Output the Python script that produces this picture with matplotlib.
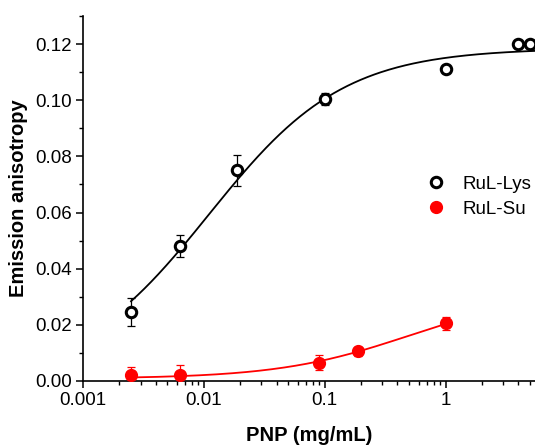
"""
Emission anisotropy of RuL-Lys and RuL-Su versus PNP concentration.
"""
import matplotlib.pyplot as plt
import numpy as np
from matplotlib.ticker import LogLocator, FixedLocator, MultipleLocator, NullFormatter

plt.rcParams['font.family'] = ['Liberation Sans', 'DejaVu Sans']

# Measured points (mean +/- error)
lys_x = [0.0025, 0.0063, 0.019, 0.1, 1.0, 4.0, 5.0]
lys_y = [0.0245, 0.048, 0.075, 0.1005, 0.111, 0.120, 0.120]
lys_err = [0.005, 0.004, 0.0055, 0.0022, 0.0012, 0.0015, 0.0015]

su_x = [0.0025, 0.0063, 0.09, 0.19, 1.0]
su_y = [0.002, 0.002, 0.0065, 0.0105, 0.0205]
su_err = [0.003, 0.0035, 0.0027, 0.0017, 0.0022]

# Hill fit parameters: y = y0 + ymax * x^n / (K^n + x^n)
lys_fit = dict(y0=0.0, ymax=0.1185, K=0.011, n=0.78)
su_fit = dict(y0=0.0008, ymax=0.0307, K=0.5, n=0.8)


def hill(x, y0, ymax, K, n):
    return y0 + ymax * x**n / (K**n + x**n)


fig = plt.figure(figsize=(5.35, 4.45), dpi=100)
ax = fig.add_axes([0.155, 0.144, 0.845, 0.82])

# fitted curves
xl = np.logspace(np.log10(0.0025), np.log10(5.5), 300)
ax.plot(xl, hill(xl, **lys_fit), color='black', lw=1.3, zorder=2)
xs = np.logspace(np.log10(0.0025), np.log10(1.0), 200)
ax.plot(xs, hill(xs, **su_fit), color='red', lw=1.3, zorder=2)

# error bars, then markers on top
ax.errorbar(lys_x, lys_y, yerr=lys_err, fmt='none', ecolor='black',
            elinewidth=0.9, capsize=3, capthick=0.9, zorder=3)
ax.errorbar(su_x, su_y, yerr=su_err, fmt='none', ecolor='red',
            elinewidth=0.9, capsize=3, capthick=0.9, zorder=3)
ax.plot(lys_x, lys_y, 'o', mfc='white', mec='black', mew=2.2, ms=7.5,
        ls='none', label='RuL-Lys', zorder=4)
ax.plot(su_x, su_y, 'o', mfc='red', mec='red', ms=8.5, ls='none',
        label='RuL-Su', zorder=4)

ax.set_xscale('log')
ax.set_xlim(0.001, 5.5)
ax.set_ylim(0, 0.13)

ax.xaxis.set_major_locator(FixedLocator([0.001, 0.01, 0.1, 1]))
ax.set_xticklabels(['0.001', '0.01', '0.1', '1'])
ax.xaxis.set_minor_locator(LogLocator(base=10, subs=np.arange(2, 10)))
ax.xaxis.set_minor_formatter(NullFormatter())
ax.yaxis.set_major_locator(MultipleLocator(0.02))
ax.yaxis.set_minor_locator(MultipleLocator(0.01))
ax.yaxis.set_major_formatter(plt.FormatStrFormatter('%.2f'))

for side in ['top', 'right']:
    ax.spines[side].set_visible(False)
for side in ['left', 'bottom']:
    ax.spines[side].set_linewidth(1.2)

ax.tick_params(which='major', direction='out', length=5, width=1.1,
               labelsize=13.5, pad=3)
ax.tick_params(which='minor', direction='out', length=3, width=1.0)

ax.set_xlabel('PNP (mg/mL)', fontsize=14.5, fontweight='bold', labelpad=12)
ax.set_ylabel('Emission anisotropy', fontsize=14.5, fontweight='bold', labelpad=5)

leg = ax.legend(loc='center left', bbox_to_anchor=(0.728, 0.505), frameon=False,
                fontsize=13.5, handletextpad=0.8, labelspacing=0.4,
                handlelength=1.2, borderpad=0.2)

plt.savefig('out.png', dpi=100)
